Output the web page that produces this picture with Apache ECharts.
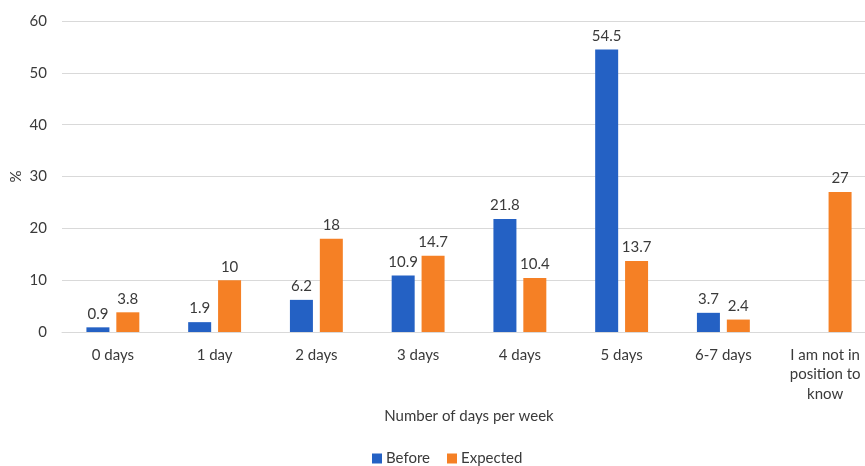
<!DOCTYPE html>
<html>
<head>
<meta charset="utf-8">
<script src="https://cdn.jsdelivr.net/npm/echarts@6/dist/echarts.min.js"></script>
<style>
  html, body { margin: 0; padding: 0; background: #ffffff; }
  #chart { width: 865px; height: 466px; }
</style>
</head>
<body>
<div id="chart"></div>
<script>
// Days per week categories (x axis)
const categories = ['0 days', '1 day', '2 days', '3 days', '4 days', '5 days', '6-7 days', 'I am not in\nposition to\nknow'];
// Percentage of respondents, before and expected
const beforeValues = [0.9, 1.9, 6.2, 10.9, 21.8, 54.5, 3.7, null];
const expectedValues = [3.8, 10, 18, 14.7, 10.4, 13.7, 2.4, 27];
// Y axis range
const yMin = 0, yMax = 60, yStep = 10;

const FONT = 'Lato, "Open Sans", sans-serif';
const FS = 15;
const TXT = '#3a3a3a';
const chart = echarts.init(document.getElementById('chart'), null, { renderer: 'canvas' });

const labelStyle = {
  show: true,
  position: 'top',
  distance: 6,
  color: TXT,
  fontFamily: FONT,
  fontSize: FS
};

chart.setOption({
  animation: false,
  backgroundColor: '#ffffff',
  textStyle: { fontFamily: FONT },
  // plot area runs slightly past the right edge of the canvas
  grid: { left: 62, width: 814, top: 21, bottom: 134, containLabel: false, outerBoundsMode: 'none' },
  legend: {
    top: 446,
    left: 367,
    itemWidth: 10,
    itemHeight: 10,
    itemGap: 17,
    icon: 'rect',
    textStyle: { color: TXT, fontFamily: FONT, fontSize: FS, padding: [0, 0, 0, -1] },
    data: ['Before', 'Expected']
  },
  xAxis: {
    type: 'category',
    data: categories,
    name: 'Number of days per week',
    nameLocation: 'middle',
    nameGap: 77,
    nameMoveOverlap: false,
    nameTextStyle: { color: TXT, fontFamily: FONT, fontSize: FS },
    axisLine: { lineStyle: { color: '#d9d9d9', width: 1 } },
    axisTick: { show: false },
    axisLabel: { color: TXT, fontFamily: FONT, fontSize: FS, margin: 13, lineHeight: 19.5, interval: 0 }
  },
  yAxis: {
    type: 'value',
    min: yMin,
    max: yMax,
    interval: yStep,
    name: '%',
    nameLocation: 'middle',
    nameGap: 38,
    nameMoveOverlap: false,
    nameRotate: 90,
    nameTextStyle: { color: TXT, fontFamily: FONT, fontSize: FS },
    axisLine: { show: false },
    axisTick: { show: false },
    axisLabel: { color: TXT, fontFamily: FONT, fontSize: FS, margin: 15 },
    splitLine: { lineStyle: { color: '#d9d9d9', width: 1 } }
  },
  series: [
    {
      name: 'Before',
      type: 'bar',
      data: beforeValues,
      barWidth: 23,
      barGap: '30%',
      itemStyle: { color: '#2461c4' },
      label: labelStyle
    },
    {
      name: 'Expected',
      type: 'bar',
      data: expectedValues,
      barWidth: 23,
      itemStyle: { color: '#f58025' },
      label: labelStyle
    }
  ]
});
</script>
</body>
</html>
